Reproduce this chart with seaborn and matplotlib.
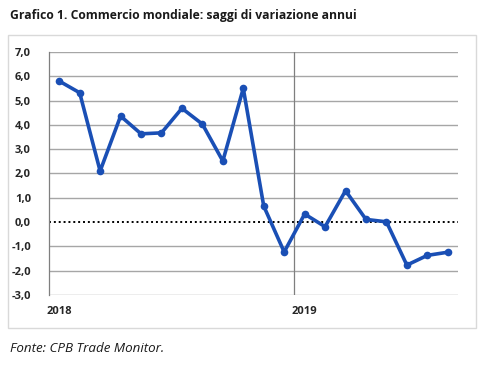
import pandas as pd
import matplotlib.pyplot as plt
import matplotlib.patches as mpatches
import seaborn as sns

# Data (annual % change, monthly)
months = ['2018-01', '2018-02', '2018-03', '2018-04', '2018-05', '2018-06',
          '2018-07', '2018-08', '2018-09', '2018-10', '2018-11', '2018-12',
          '2019-01', '2019-02', '2019-03', '2019-04', '2019-05', '2019-06',
          '2019-07', '2019-08']
growth = [5.80, 5.32, 2.10, 4.36, 3.63, 3.67, 4.68, 4.03, 2.51, 5.50, 0.66, -1.23,
          0.33, -0.19, 1.29, 0.11, 0.01, -1.77, -1.37, -1.24]
year_labels = ['2018', '2019']
year_pos = [0, 12]

df = pd.DataFrame({'pos': range(len(months)), 'month': months, 'growth': growth})

sns.set_style('white')
plt.rcParams['font.family'] = ['Open Sans', 'DejaVu Sans']

fig = plt.figure(figsize=(5, 3.7), dpi=100)
ax = fig.add_axes([0.098, 0.2027, 0.818, 0.657])

# Light grey frame around the chart
fig.patches.append(mpatches.Rectangle((8 / 500, 1 - 328 / 370), 468 / 500, 293 / 370,
                                      transform=fig.transFigure, fill=False,
                                      edgecolor='#d9d9d9', linewidth=1))

# Gridlines
for v in range(-3, 8):
    if v == 0:
        ax.axhline(0, color='black', linestyle=(0, (1, 1.5)), linewidth=1.4, zorder=1)
    else:
        ax.axhline(v, color='#a6a6a6', linewidth=1, zorder=1)
ax.axvline(11.5, color='#7f7f7f', linewidth=0.9, zorder=1)

sns.lineplot(data=df, x='pos', y='growth', ax=ax, color='#1a4fb5', linewidth=2.6,
             marker='o', markersize=5.5, markeredgewidth=0, zorder=3)

ax.set_xlim(-0.5, len(months) - 0.5)
ax.set_ylim(-3, 7)
ax.set_yticks(range(-3, 8))
ax.set_yticklabels([f'{v:.1f}'.replace('.', ',') for v in range(-3, 8)],
                   fontsize=8, fontweight='bold', color='#262626')
ax.set_xticks(year_pos)
ax.set_xticklabels(year_labels, fontsize=8, fontweight='bold', color='#262626')
ax.tick_params(axis='y', length=0, pad=13)
ax.tick_params(axis='x', length=0, pad=8)
ax.set_xlabel('')
ax.set_ylabel('')

for side in ['top', 'right', 'bottom']:
    ax.spines[side].set_visible(False)
ax.spines['left'].set_color('#7f7f7f')
ax.spines['left'].set_linewidth(0.9)

fig.text(10 / 500, 1 - 15 / 370, 'Grafico 1. Commercio mondiale: saggi di variazione annui',
         fontsize=8.7, fontweight='bold', va='center', ha='left', color='#1a1a1a')
fig.text(10 / 500, 1 - 348 / 370, 'Fonte: CPB Trade Monitor.',
         fontsize=9.6, fontstyle='italic', va='center', ha='left', color='#1a1a1a')

fig.savefig('out.png', dpi=100)
